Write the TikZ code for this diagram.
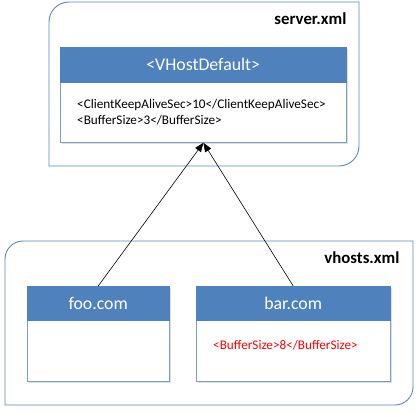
\documentclass[tikz,border=0pt]{standalone}
\usepackage{fontspec}
\setmainfont{Carlito}
\usetikzlibrary{arrows.meta,positioning,shadows}
\definecolor{hdr}{HTML}{4F81BD}
\definecolor{cbord}{HTML}{5B86BE}
\definecolor{bbord}{HTML}{7C9CCB}
\tikzset{
  cont/.style={draw=cbord,line width=0.9pt},
  hdrbox/.style={draw=hdr,fill=hdr,text=white,font=\fontsize{17.8}{20}\selectfont,inner sep=0pt,anchor=north west},
  bodybox/.style={draw=bbord,line width=0.8pt,fill=white,inner sep=0pt,anchor=north west,drop shadow={shadow xshift=1.5pt,shadow yshift=-1.5pt,opacity=0.25,fill=gray}},
  lbl/.style={font=\fontsize{16.8}{18}\selectfont\bfseries,anchor=east},
  xmltext/.style={font=\fontsize{13.2}{16}\selectfont,align=left,anchor=west,inner sep=0pt},
  inh/.style={-{Triangle[length=9pt,width=7pt]},line width=0.6pt}
}
\begin{document}
\begin{tikzpicture}[x=1pt,y=1pt]
\useasboundingbox (0,0) rectangle (418,413);
% containers
\draw[cont] (49,247) -- (49,391) arc[start angle=180,end angle=90,radius=20pt] -- (359,411) -- (359,267) arc[start angle=0,end angle=-90,radius=20pt] -- cycle;
\draw[cont] (5,8) -- (5,154) arc[start angle=180,end angle=90,radius=18pt] -- (413,172) -- (413,26) arc[start angle=0,end angle=-90,radius=18pt] -- cycle;
\node[lbl] (serverlbl) at (350,394) {server.xml};
\node[lbl] (vhostslbl) at (403,155) {vhosts.xml};
% VHostDefault
\node[bodybox,minimum width=286pt,minimum height=95pt] (vbody) at (60,366) {};
\node[hdrbox,minimum width=286pt,minimum height=35pt] (vhdr) at (60,366) {<VHostDefault>};
\node[xmltext] (vtext) at (77,301) {<ClientKeepAliveSec>10</ClientKeepAliveSec>\\<BufferSize>3</BufferSize>};
% foo.com
\node[bodybox,minimum width=142pt,minimum height=95pt] (foobody) at (27,127) {};
\node[hdrbox,minimum width=142pt,minimum height=34pt] (foohdr) at (27,127) {foo.com};
% bar.com
\node[bodybox,minimum width=194pt,minimum height=95pt] (barbody) at (196,127) {};
\node[hdrbox,minimum width=194pt,minimum height=34pt] (barhdr) at (196,127) {bar.com};
\node[xmltext,text=red] (bartext) at (213,68) {<BufferSize>8</BufferSize>};
% arrows
\draw[inh] (foohdr.north) -- (vbody.south);
\draw[inh] (barhdr.north) -- (vbody.south);
\end{tikzpicture}
\end{document}
